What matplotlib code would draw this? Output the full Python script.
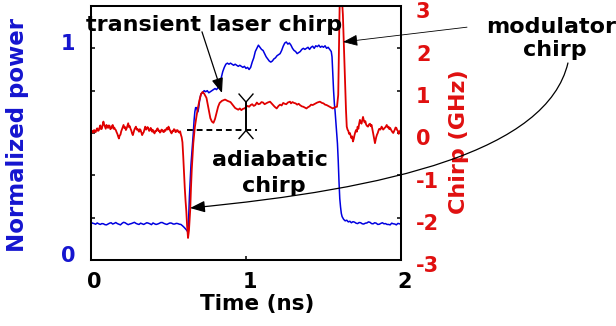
import matplotlib
matplotlib.use("Agg")
import matplotlib.pyplot as plt
from matplotlib.patches import FancyArrowPatch
from matplotlib.path import Path
from matplotlib.transforms import ScaledTranslation

plt.rcParams['font.family'] = ['DejaVu Sans']
plt.rcParams['font.weight'] = 'bold'

BLUE_TRACE = '#0000e0'
BLUE_TEXT = '#1515cf'
RED_TRACE = '#e00000'
RED_TEXT = '#e01010'

# ---- normalized optical power (left axis) ----
time_power = [
    0.00, 0.01, 0.02, 0.03, 0.04, 0.05, 0.06, 0.07, 0.08, 0.09,
    0.10, 0.11, 0.12, 0.13, 0.14, 0.15, 0.16, 0.17, 0.18, 0.19,
    0.20, 0.21, 0.22, 0.23, 0.24, 0.25, 0.26, 0.27, 0.28, 0.29,
    0.30, 0.31, 0.32, 0.33, 0.34, 0.35, 0.36, 0.37, 0.38, 0.39,
    0.40, 0.41, 0.42, 0.43, 0.44, 0.45, 0.46, 0.47, 0.48, 0.49,
    0.50, 0.51, 0.52, 0.53, 0.54, 0.55, 0.56, 0.57, 0.58, 0.59,
    0.60, 0.61, 0.62, 0.625, 0.63, 0.635, 0.64, 0.645, 0.65, 0.655,
    0.66, 0.665, 0.67, 0.675, 0.68, 0.685, 0.69, 0.695, 0.70, 0.705,
    0.71, 0.72, 0.73, 0.74, 0.75, 0.76, 0.77, 0.78, 0.79, 0.80,
    0.81, 0.82, 0.83, 0.84, 0.85, 0.86, 0.87, 0.88, 0.89, 0.90,
    0.91, 0.92, 0.93, 0.94, 0.95, 0.96, 0.97, 0.98, 0.99, 1.00,
    1.01, 1.02, 1.03, 1.04, 1.05, 1.06, 1.07, 1.08, 1.09, 1.10,
    1.11, 1.12, 1.13, 1.14, 1.15, 1.16, 1.17, 1.18, 1.19, 1.20,
    1.21, 1.22, 1.23, 1.24, 1.25, 1.26, 1.27, 1.28, 1.29, 1.30,
    1.31, 1.32, 1.33, 1.34, 1.35, 1.36, 1.37, 1.38, 1.39, 1.40,
    1.41, 1.42, 1.43, 1.44, 1.45, 1.46, 1.47, 1.48, 1.49, 1.50,
    1.51, 1.52, 1.53, 1.54, 1.55, 1.555, 1.56, 1.565, 1.57, 1.575,
    1.58, 1.585, 1.59, 1.595, 1.60, 1.605, 1.61, 1.615, 1.62, 1.625,
    1.63, 1.64, 1.65, 1.66, 1.67, 1.68, 1.69, 1.70, 1.71, 1.72,
    1.73, 1.74, 1.75, 1.76, 1.77, 1.78, 1.79, 1.80, 1.81, 1.82,
    1.83, 1.84, 1.85, 1.86, 1.87, 1.88, 1.89, 1.90, 1.91, 1.92,
    1.93, 1.94, 1.95, 1.96, 1.97, 1.98, 1.99, 2.00,
]
power = [
    0.178, 0.174, 0.172, 0.169, 0.175, 0.171, 0.168, 0.172, 0.171, 0.167,
    0.166, 0.170, 0.174, 0.176, 0.170, 0.173, 0.177, 0.172, 0.169, 0.166,
    0.173, 0.178, 0.176, 0.171, 0.167, 0.170, 0.172, 0.175, 0.178, 0.173,
    0.170, 0.168, 0.174, 0.171, 0.168, 0.172, 0.176, 0.174, 0.171, 0.167,
    0.175, 0.171, 0.168, 0.170, 0.173, 0.177, 0.177, 0.173, 0.170, 0.168,
    0.172, 0.175, 0.174, 0.170, 0.170, 0.173, 0.172, 0.169, 0.168, 0.162,
    0.155, 0.147, 0.138, 0.132, 0.20, 0.30, 0.38, 0.45, 0.50, 0.55,
    0.60, 0.66, 0.70, 0.72, 0.72, 0.71, 0.70, 0.72, 0.75, 0.77,
    0.785, 0.79, 0.80, 0.795, 0.80, 0.79, 0.795, 0.80, 0.805, 0.81,
    0.805, 0.815, 0.83, 0.86, 0.89, 0.91, 0.925, 0.93, 0.925, 0.93,
    0.925, 0.92, 0.925, 0.92, 0.915, 0.92, 0.915, 0.91, 0.915, 0.905,
    0.91, 0.90, 0.91, 0.935, 0.955, 0.985, 1.00, 1.015, 1.005, 0.995,
    0.99, 0.975, 0.96, 0.95, 0.94, 0.935, 0.94, 0.95, 0.955, 0.965,
    0.97, 0.975, 0.99, 1.01, 1.025, 1.03, 1.02, 1.025, 1.015, 1.00,
    0.99, 0.985, 0.975, 0.98, 0.985, 0.995, 1.00, 0.995, 1.00, 1.005,
    0.995, 1.005, 1.01, 1.00, 1.012, 1.008, 1.015, 1.005, 1.01, 1.005,
    1.012, 1.00, 1.005, 0.995, 0.985, 0.96, 0.88, 0.80, 0.74, 0.70,
    0.65, 0.60, 0.55, 0.47, 0.37, 0.29, 0.25, 0.22, 0.205, 0.198,
    0.192, 0.185, 0.188, 0.180, 0.183, 0.176, 0.181, 0.179, 0.174, 0.172,
    0.177, 0.176, 0.171, 0.170, 0.174, 0.175, 0.180, 0.178, 0.172, 0.171,
    0.176, 0.174, 0.168, 0.169, 0.173, 0.176, 0.171, 0.172, 0.168, 0.168,
    0.166, 0.174, 0.171, 0.170, 0.166, 0.173, 0.171, 0.169,
]

# ---- frequency chirp (right axis), GHz ----
time_chirp = [
    0.000, 0.005, 0.010, 0.015, 0.020, 0.025, 0.030, 0.035, 0.040, 0.045,
    0.050, 0.055, 0.060, 0.065, 0.070, 0.075, 0.080, 0.085, 0.090, 0.095,
    0.100, 0.105, 0.110, 0.115, 0.120, 0.125, 0.130, 0.135, 0.140, 0.145,
    0.150, 0.155, 0.160, 0.165, 0.170, 0.175, 0.180, 0.185, 0.190, 0.195,
    0.200, 0.205, 0.210, 0.215, 0.220, 0.225, 0.230, 0.235, 0.240, 0.245,
    0.250, 0.255, 0.260, 0.265, 0.270, 0.275, 0.280, 0.285, 0.290, 0.295,
    0.300, 0.305, 0.310, 0.315, 0.320, 0.325, 0.330, 0.335, 0.340, 0.345,
    0.350, 0.355, 0.360, 0.365, 0.370, 0.375, 0.380, 0.385, 0.390, 0.395,
    0.400, 0.405, 0.410, 0.415, 0.420, 0.425, 0.430, 0.435, 0.440, 0.445,
    0.450, 0.455, 0.460, 0.465, 0.470, 0.475, 0.480, 0.485, 0.490, 0.495,
    0.500, 0.505, 0.510, 0.515, 0.520, 0.525, 0.530, 0.535, 0.540, 0.545,
    0.550, 0.555, 0.560, 0.565, 0.570, 0.575, 0.580, 0.585, 0.590, 0.595,
    0.600, 0.605, 0.610, 0.615, 0.620, 0.626, 0.632, 0.640, 0.645, 0.650,
    0.660, 0.670, 0.680, 0.690, 0.700, 0.710, 0.720, 0.730, 0.745, 0.760,
    0.770, 0.780, 0.790, 0.800, 0.810, 0.820, 0.830, 0.845, 0.865, 0.880,
    0.900, 0.915, 0.930, 0.940, 0.950, 0.960, 0.970, 0.980, 0.990, 1.000,
    1.010, 1.020, 1.030, 1.040, 1.050, 1.060, 1.070, 1.080, 1.090, 1.100,
    1.110, 1.120, 1.130, 1.140, 1.155, 1.165, 1.175, 1.185, 1.198, 1.210,
    1.220, 1.230, 1.240, 1.250, 1.260, 1.270, 1.284, 1.290, 1.300, 1.310,
    1.320, 1.330, 1.340, 1.348, 1.360, 1.370, 1.380, 1.390, 1.400, 1.410,
    1.420, 1.430, 1.440, 1.450, 1.460, 1.477, 1.490, 1.500, 1.510, 1.520,
    1.530, 1.540, 1.550, 1.560, 1.575, 1.587, 1.595, 1.600, 1.605, 1.615,
    1.625, 1.632, 1.639, 1.645, 1.650, 1.655, 1.660, 1.665, 1.670, 1.675,
    1.680, 1.685, 1.690, 1.695, 1.700, 1.705, 1.710, 1.715, 1.720, 1.725,
    1.730, 1.735, 1.740, 1.745, 1.750, 1.755, 1.760, 1.765, 1.770, 1.775,
    1.780, 1.787, 1.793, 1.800, 1.805, 1.810, 1.815, 1.820, 1.826, 1.832,
    1.837, 1.840, 1.845, 1.850, 1.855, 1.860, 1.867, 1.875, 1.880, 1.885,
    1.890, 1.900, 1.908, 1.914, 1.920, 1.925, 1.930, 1.935, 1.940, 1.945,
    1.950, 1.955, 1.960, 1.965, 1.970, 1.975, 1.980, 1.985, 1.990, 1.995,
    2.000,
]
chirp = [
    -0.01, 0.03, 0.05, 0.01, 0.07, 0.04, 0.02, 0.08, 0.11, 0.05,
    0.06, 0.13, 0.18, 0.09, 0.10, 0.19, 0.27, 0.20, 0.15, 0.10,
    0.19, 0.16, 0.12, 0.18, 0.17, 0.09, 0.11, 0.16, 0.19, 0.10,
    0.13, 0.09, 0.07, 0.02, -0.02, -0.08, -0.13, -0.06, -0.04, 0.04,
    0.09, 0.14, 0.19, 0.12, 0.14, 0.07, 0.11, 0.17, 0.23, 0.14,
    0.16, 0.10, 0.06, -0.01, -0.05, 0.02, 0.08, 0.12, 0.15, 0.08,
    0.10, 0.06, 0.03, 0.09, 0.07, 0.01, -0.05, -0.01, 0.02, 0.09,
    0.15, 0.08, 0.10, 0.14, 0.11, 0.05, 0.06, 0.12, 0.09, 0.03,
    0.07, 0.02, -0.01, 0.05, 0.04, 0.09, 0.11, 0.05, 0.06, 0.01,
    0.03, 0.08, 0.07, 0.03, 0.02, 0.07, 0.05, 0.09, 0.12, 0.08,
    0.15, 0.10, 0.06, 0.02, -0.01, 0.05, 0.04, 0.09, 0.08, 0.02,
    0.03, 0.07, 0.06, 0.02, 0.01, 0.04, -0.04, -0.10, -0.22, -0.55,
    -0.95, -1.30, -1.60, -1.85, -2.20, -2.48, -2.30, -1.82, -1.30, -0.87,
    -0.24, 0.14, 0.38, 0.60, 0.78, 0.92, 0.97, 0.93, 0.83, 0.55,
    0.35, 0.27, 0.24, 0.33, 0.47, 0.62, 0.71, 0.76, 0.79, 0.76,
    0.73, 0.66, 0.59, 0.57, 0.55, 0.58, 0.54, 0.57, 0.58, 0.61,
    0.64, 0.62, 0.66, 0.68, 0.64, 0.66, 0.72, 0.68, 0.69, 0.73,
    0.72, 0.68, 0.70, 0.72, 0.74, 0.70, 0.66, 0.62, 0.58, 0.64,
    0.67, 0.65, 0.71, 0.69, 0.68, 0.72, 0.74, 0.70, 0.73, 0.71,
    0.70, 0.67, 0.69, 0.66, 0.63, 0.62, 0.60, 0.58, 0.61, 0.63,
    0.67, 0.66, 0.68, 0.70, 0.72, 0.74, 0.71, 0.70, 0.67, 0.66,
    0.64, 0.62, 0.60, 0.58, 0.61, 0.62, 0.90, 2.00, 3.20, 3.40,
    2.80, 2.00, 1.18, 0.55, 0.15, 0.08, 0.05, -0.02, 0.00, -0.06,
    -0.12, -0.08, -0.20, -0.14, -0.05, 0.02, 0.07, 0.03, 0.15, 0.10,
    0.22, 0.31, 0.26, 0.22, 0.30, 0.38, 0.30, 0.25, 0.28, 0.20,
    0.17, 0.15, 0.20, 0.22, 0.16, 0.19, 0.10, 0.00, -0.12, -0.24,
    -0.15, -0.10, -0.04, 0.00, 0.06, 0.10, 0.08, 0.15, 0.12, 0.08,
    0.10, 0.14, 0.19, 0.13, 0.15, 0.09, 0.12, 0.08, 0.05, 0.02,
    0.00, 0.04, 0.08, 0.13, 0.12, 0.07, 0.05, -0.02, 0.00, 0.06,
    0.03,
]

# ---- axes, ticks ----
x_ticks = [0, 1, 2]
power_ticks = [0, 0.2, 0.4, 0.6, 0.8, 1.0, 1.2]
power_tick_labels = ['0', '', '', '', '', '1', '']
chirp_ticks = [-3, -2, -1, 0, 1, 2, 3]

# adiabatic chirp: baseline before the pulse and level on the pulse top (GHz)
adiabatic_base = 0.06
adiabatic_top = 0.73
adiabatic_time = 1.0

fig = plt.figure(figsize=(6.16, 3.26), dpi=100)
ax1 = fig.add_axes([91 / 616, 66 / 326, 310 / 616, 254 / 326])
ax2 = ax1.twinx()

ax1.plot(time_power, power, color=BLUE_TRACE, lw=1.1)
ax2.plot(time_chirp, chirp, color=RED_TRACE, lw=1.3)

ax1.set_xlim(0, 2)
ax1.set_ylim(0, 1.2)
ax2.set_ylim(-3, 3)

ax1.set_xticks(x_ticks)
ax1.set_xticklabels([str(v) for v in x_ticks])
ax1.set_yticks(power_ticks)
ax1.set_yticklabels(power_tick_labels)
ax2.set_yticks(chirp_ticks)
ax2.set_yticklabels([str(v) for v in chirp_ticks])

ax1.tick_params(axis='x', direction='in', length=3, width=1.1, pad=8.5,
                labelsize=15, top=False)
ax1.tick_params(axis='y', direction='in', length=3, width=1.1, pad=11.5,
                labelsize=15, labelcolor=BLUE_TEXT)
ax2.tick_params(axis='y', direction='in', length=3, width=1.1, pad=10.8,
                labelsize=15, labelcolor=RED_TEXT)

for ax in (ax1, ax2):
    for sp in ax.spines.values():
        sp.set_linewidth(1.45)


def nudge(labels, dx_px, dy_px):
    off = ScaledTranslation(dx_px / 100, dy_px / 100, fig.dpi_scale_trans)
    for lab in labels:
        lab.set_transform(lab.get_transform() + off)


nudge(ax1.get_xticklabels(), 3.5, 0)
nudge(ax1.get_yticklabels(), 0, 6)
nudge(ax2.get_yticklabels(), 0, -4.5)

ax1.set_xlabel('Time (ns)', fontsize=15.5, fontweight='bold')
ax1.xaxis.set_label_coords(0.535, -0.134)
ax1.set_ylabel('Normalized power', fontsize=16.5, fontweight='bold', color=BLUE_TEXT)
ax1.yaxis.set_label_coords(-0.2, 0.494)
ax2.set_ylabel('Chirp (GHz)', fontsize=16, fontweight='bold', color=RED_TEXT)
ax2.yaxis.set_label_coords(1.155, 0.4665)

# ---- annotations ----
txt = dict(fontsize=16, fontweight='bold', color='black', ha='center', va='baseline')

ax2.text(0.797, 2.40, 'transient laser chirp', **txt)
ax2.annotate('', xy=(0.845, 0.945), xytext=(0.716, 2.39), annotation_clip=False,
             arrowprops=dict(arrowstyle='-|>,head_length=0.9,head_width=0.35',
                             color='black', lw=0.9, shrinkA=0, shrinkB=0))

ax2.text(2.968, 2.36, 'modulator', **txt)
ax2.text(2.994, 1.82, 'chirp', **txt)
ax2.annotate('', xy=(1.626, 2.15), xytext=(2.426, 2.50), annotation_clip=False,
             arrowprops=dict(arrowstyle='-|>,head_length=0.9,head_width=0.35',
                             color='black', lw=0.6, shrinkA=0, shrinkB=0))

ax2.text(1.155, -0.79, 'adiabatic', **txt)
ax2.text(1.18, -1.39, 'chirp', **txt)

# long curved pointer from "modulator chirp" to the chirp dip at the rising edge
curve = Path([(3.077, 1.654), (2.942, -0.425), (1.929, -1.323), (0.639, -1.772)],
             [Path.MOVETO, Path.CURVE4, Path.CURVE4, Path.CURVE4])
fig.add_artist(FancyArrowPatch(path=curve, transform=ax2.transData,
                               arrowstyle='-|>,head_length=0.9,head_width=0.35',
                               mutation_scale=10, lw=0.9, color='black'))

# adiabatic chirp marker: dashed baseline and vertical bar with V-shaped caps
ax2.plot([0.617, 1.069], [adiabatic_base, adiabatic_base], color='black',
         lw=1.4, ls=(0, (3, 2)))
ax2.plot([adiabatic_time, adiabatic_time], [adiabatic_base, adiabatic_top],
         color='black', lw=1.4)
cap_w, cap_h = 0.045, 0.19
ax2.plot([adiabatic_time - cap_w, adiabatic_time, adiabatic_time + cap_w],
         [adiabatic_top + cap_h, adiabatic_top, adiabatic_top + cap_h],
         color='black', lw=1.0)
ax2.plot([adiabatic_time - cap_w, adiabatic_time, adiabatic_time + cap_w],
         [adiabatic_base - cap_h, adiabatic_base, adiabatic_base - cap_h],
         color='black', lw=1.0)

fig.savefig('out.png', dpi=100)
